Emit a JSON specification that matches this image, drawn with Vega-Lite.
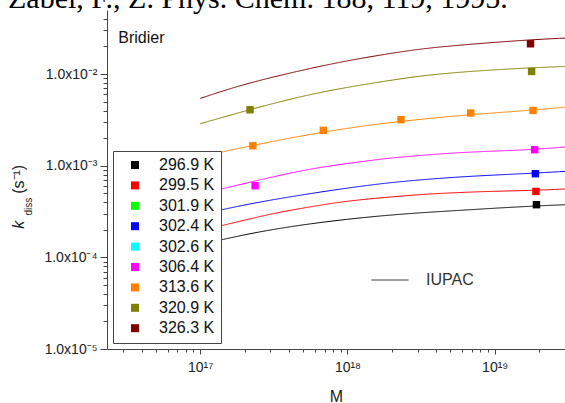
{
  "$schema": "https://vega.github.io/schema/vega-lite/v6.json",
  "width": 458,
  "height": 339,
  "autosize": "none",
  "padding": {"left": 107, "top": 10, "right": 0, "bottom": 54},
  "background": "white",
  "config": {"view": {"stroke": null}, "font": "Liberation Sans", "axis": {"grid": false}},
  "title": {"text": "Zabel, F., Z. Phys. Chem. 188, 119, 1995.", "font": "Liberation Serif", "fontSize": 30, "fontWeight": "normal", "color": "#000", "anchor": "start", "frame": "group", "baseline": "alphabetic", "offset": 0, "dx": -99, "dy": 28},
  "datasets": {
    "fit": [
      {"T": "326.3 K", "M": 1e17, "k": 0.00542}, {"T": "326.3 K", "M": 1.778e17, "k": 0.00736}, {"T": "326.3 K", "M": 3.162e17, "k": 0.00934}, {"T": "326.3 K", "M": 5.623e17, "k": 0.01157}, {"T": "326.3 K", "M": 1e18, "k": 0.0140}, {"T": "326.3 K", "M": 1.778e18, "k": 0.0164}, {"T": "326.3 K", "M": 3.162e18, "k": 0.0189}, {"T": "326.3 K", "M": 5.623e18, "k": 0.0206}, {"T": "326.3 K", "M": 1e19, "k": 0.0222}, {"T": "326.3 K", "M": 1.778e19, "k": 0.0237}, {"T": "326.3 K", "M": 3e19, "k": 0.0247},
      {"T": "320.9 K", "M": 1e17, "k": 0.00287}, {"T": "320.9 K", "M": 1.778e17, "k": 0.00374}, {"T": "320.9 K", "M": 3.162e17, "k": 0.00481}, {"T": "320.9 K", "M": 5.623e17, "k": 0.00602}, {"T": "320.9 K", "M": 1e18, "k": 0.00718}, {"T": "320.9 K", "M": 1.778e18, "k": 0.00835}, {"T": "320.9 K", "M": 3.162e18, "k": 0.00958}, {"T": "320.9 K", "M": 5.623e18, "k": 0.01046}, {"T": "320.9 K", "M": 1e19, "k": 0.01114}, {"T": "320.9 K", "M": 1.778e19, "k": 0.01171}, {"T": "320.9 K", "M": 3e19, "k": 0.0121},
      {"T": "313.6 K", "M": 1e17, "k": 0.001254}, {"T": "313.6 K", "M": 1.778e17, "k": 0.001532}, {"T": "313.6 K", "M": 3.162e17, "k": 0.00185}, {"T": "313.6 K", "M": 5.623e17, "k": 0.002205}, {"T": "313.6 K", "M": 1e18, "k": 0.002565}, {"T": "313.6 K", "M": 1.778e18, "k": 0.002907}, {"T": "313.6 K", "M": 3.162e18, "k": 0.003214}, {"T": "313.6 K", "M": 5.623e18, "k": 0.00351}, {"T": "313.6 K", "M": 1e19, "k": 0.00378}, {"T": "313.6 K", "M": 1.778e19, "k": 0.00403}, {"T": "313.6 K", "M": 3e19, "k": 0.00435},
      {"T": "306.4 K", "M": 1e17, "k": 0.000489}, {"T": "306.4 K", "M": 1.778e17, "k": 0.000613}, {"T": "306.4 K", "M": 3.162e17, "k": 0.000759}, {"T": "306.4 K", "M": 5.623e17, "k": 0.000927}, {"T": "306.4 K", "M": 1e18, "k": 0.001057}, {"T": "306.4 K", "M": 1.778e18, "k": 0.001198}, {"T": "306.4 K", "M": 3.162e18, "k": 0.001298}, {"T": "306.4 K", "M": 5.623e18, "k": 0.00139}, {"T": "306.4 K", "M": 1e19, "k": 0.001446}, {"T": "306.4 K", "M": 1.778e19, "k": 0.001494}, {"T": "306.4 K", "M": 3e19, "k": 0.0016},
      {"T": "302.4 K", "M": 1e17, "k": 0.0002921}, {"T": "302.4 K", "M": 1.778e17, "k": 0.0003609}, {"T": "302.4 K", "M": 3.162e17, "k": 0.0004279}, {"T": "302.4 K", "M": 5.623e17, "k": 0.0004974}, {"T": "302.4 K", "M": 1e18, "k": 0.0005712}, {"T": "302.4 K", "M": 1.778e18, "k": 0.0006445}, {"T": "302.4 K", "M": 3.162e18, "k": 0.0007036}, {"T": "302.4 K", "M": 5.623e18, "k": 0.000753}, {"T": "302.4 K", "M": 1e19, "k": 0.0007917}, {"T": "302.4 K", "M": 1.778e19, "k": 0.0008262}, {"T": "302.4 K", "M": 3e19, "k": 0.000867},
      {"T": "299.5 K", "M": 1e17, "k": 0.0001955}, {"T": "299.5 K", "M": 1.778e17, "k": 0.0002432}, {"T": "299.5 K", "M": 3.162e17, "k": 0.0003034}, {"T": "299.5 K", "M": 5.623e17, "k": 0.0003572}, {"T": "299.5 K", "M": 1e18, "k": 0.0004132}, {"T": "299.5 K", "M": 1.778e18, "k": 0.00045}, {"T": "299.5 K", "M": 3.162e18, "k": 0.0004864}, {"T": "299.5 K", "M": 5.623e18, "k": 0.00051}, {"T": "299.5 K", "M": 1e19, "k": 0.000527}, {"T": "299.5 K", "M": 1.778e19, "k": 0.0005365}, {"T": "299.5 K", "M": 3e19, "k": 0.000557},
      {"T": "296.9 K", "M": 1e17, "k": 0.0001375}, {"T": "296.9 K", "M": 1.778e17, "k": 0.0001703}, {"T": "296.9 K", "M": 3.162e17, "k": 0.000203}, {"T": "296.9 K", "M": 5.623e17, "k": 0.0002331}, {"T": "296.9 K", "M": 1e18, "k": 0.000261}, {"T": "296.9 K", "M": 1.778e18, "k": 0.0002863}, {"T": "296.9 K", "M": 3.162e18, "k": 0.0003073}, {"T": "296.9 K", "M": 5.623e18, "k": 0.0003247}, {"T": "296.9 K", "M": 1e19, "k": 0.000344}, {"T": "296.9 K", "M": 1.778e19, "k": 0.0003618}, {"T": "296.9 K", "M": 3e19, "k": 0.0003755}
    ],
    "exp": [
      {"T": "296.9 K", "M": 1.92e19, "k": 0.0003755},
      {"T": "299.5 K", "M": 1.905e19, "k": 0.000524},
      {"T": "302.4 K", "M": 1.888e19, "k": 0.000818},
      {"T": "306.4 K", "M": 2.36e17, "k": 0.000605},
      {"T": "306.4 K", "M": 1.866e19, "k": 0.001494},
      {"T": "313.6 K", "M": 2.28e17, "k": 0.00165},
      {"T": "313.6 K", "M": 6.86e17, "k": 0.00243},
      {"T": "313.6 K", "M": 2.31e18, "k": 0.00318},
      {"T": "313.6 K", "M": 6.87e18, "k": 0.00376},
      {"T": "313.6 K", "M": 1.82e19, "k": 0.00401},
      {"T": "320.9 K", "M": 2.18e17, "k": 0.00408},
      {"T": "320.9 K", "M": 1.78e19, "k": 0.01068},
      {"T": "326.3 K", "M": 1.75e19, "k": 0.0214}
    ]
  },
  "resolve": {"axis": {"x": "independent", "y": "independent"}},
  "layer": [
    {
      "data": {"name": "fit"},
      "mark": {"type": "line", "strokeWidth": 1, "interpolate": "basis", "clip": true},
      "encoding": {
        "x": {"field": "M", "type": "quantitative", "scale": {"type": "log", "domain": [2.33e16, 3e19], "nice": false},
          "axis": {"orient": "bottom", "values": [1e17, 1e18, 1e19],
            "labelExpr": "round(log(datum.value)/LN10) == 17 ? '10¹⁷' : round(log(datum.value)/LN10) == 18 ? '10¹⁸' : '10¹⁹'",
            "tickSize": 5,
            "labelFontSize": 14, "labelColor": "#222", "labelPadding": 6, "labelOverlap": false, "labelFlush": false, "labelBound": false,
            "domainColor": "#444", "tickColor": "#444",
            "title": "M", "titleFontSize": 16, "titleFontWeight": "normal", "titleColor": "#222", "titlePadding": 14}},
        "y": {"field": "k", "type": "quantitative", "scale": {"type": "log", "domain": [1e-5, 0.05], "nice": false},
          "axis": {"orient": "left",
            "values": [1e-5, 1e-4, 1e-3, 1e-2],
            "labelExpr": "round(log(datum.value)/LN10) == -5 ? '1.0x10⁻⁵' : round(log(datum.value)/LN10) == -4 ? '1.0x10⁻⁴' : round(log(datum.value)/LN10) == -3 ? '1.0x10⁻³' : '1.0x10⁻²'",
            "tickSize": 7,
            "labelFontSize": 14, "labelColor": "#222", "labelPadding": 3, "labelOverlap": false, "labelFlush": false, "labelBound": false,
            "domainColor": "#444", "tickColor": "#444",
            "title": "k", "titleFontStyle": "italic", "titleFontSize": 16, "titleFontWeight": "normal", "titleColor": "#222",
            "titleX": -83.5, "titleY": 218.3, "titleAngle": 270, "titleAlign": "left", "titleBaseline": "alphabetic"}},
        "color": {"field": "T", "type": "nominal",
          "scale": {"domain": ["296.9 K", "299.5 K", "301.9 K", "302.4 K", "302.6 K", "306.4 K", "313.6 K", "320.9 K", "326.3 K"],
                    "range": ["#000000", "#FF0000", "#00FF00", "#0000FF", "#00FFFF", "#FF00FF", "#FF8000", "#808000", "#800000"]}},
        "strokeDash": {"datum": "IUPAC", "scale": {"range": [[1, 0]]},
          "legend": {"title": null, "orient": "none", "legendX": 264, "legendY": 251, "padding": 0,
            "symbolType": "stroke", "symbolSize": 1369, "symbolStrokeColor": "#222", "symbolStrokeWidth": 1,
            "labelFontSize": 16, "labelColor": "#333", "labelOffset": 17}}
      }
    },
    {
      "data": {"name": "exp"},
      "mark": {"type": "point", "shape": "square", "filled": true, "size": 55, "opacity": 1},
      "encoding": {
        "x": {"field": "M", "type": "quantitative",
          "axis": {"orient": "bottom", "values": [3e16, 4e16, 5e16, 6e16, 7e16, 8e16, 9e16, 2e17, 3e17, 4e17, 5e17, 6e17, 7e17, 8e17, 9e17, 2e18, 3e18, 4e18, 5e18, 6e18, 7e18, 8e18, 9e18, 2e19],
            "labels": false, "domain": false, "tickSize": 3, "tickColor": "#444", "title": null}},
        "y": {"field": "k", "type": "quantitative",
          "axis": {"orient": "left", "labels": false, "domain": false,
            "values": [2e-5, 3e-5, 4e-5, 5e-5, 6e-5, 7e-5, 8e-5, 9e-5, 2e-4, 3e-4, 4e-4, 5e-4, 6e-4, 7e-4, 8e-4, 9e-4, 2e-3, 3e-3, 4e-3, 5e-3, 6e-3, 7e-3, 8e-3, 9e-3, 2e-2, 3e-2, 4e-2],
            "tickSize": 4, "tickColor": "#444",
            "title": "diss", "titleFontSize": 10, "titleFontWeight": "normal", "titleColor": "#222",
            "titleX": -76, "titleY": 205, "titleAngle": 270, "titleAlign": "left", "titleBaseline": "alphabetic"}},
        "color": {"field": "T", "type": "nominal",
          "legend": {"title": null, "orient": "none", "legendX": 6, "legendY": 141,
            "fillColor": "white", "strokeColor": "#444", "padding": 6, "zindex": 1,
            "symbolType": "square", "symbolSize": 64, "symbolOffset": 8, "symbolStrokeWidth": 0,
            "labelFontSize": 16, "labelColor": "#111", "labelOffset": 16, "rowPadding": 4.4}}
      }
    },
    {
      "data": {"values": [{}]},
      "mark": {"type": "text", "align": "left", "baseline": "alphabetic", "fontSize": 16, "color": "#111"},
      "encoding": {
        "x": {"datum": 2.78e16, "type": "quantitative", "axis": null},
        "y": {"datum": 0.02194, "type": "quantitative",
          "axis": {"orient": "left", "labels": false, "ticks": false, "domain": false,
            "title": "(s⁻¹)", "titleFontSize": 16, "titleFontWeight": "normal", "titleColor": "#222",
            "titleX": -83.5, "titleY": 183.3, "titleAngle": 270, "titleAlign": "left", "titleBaseline": "alphabetic"}},
        "text": {"value": "Bridier"}
      }
    }
  ]
}
